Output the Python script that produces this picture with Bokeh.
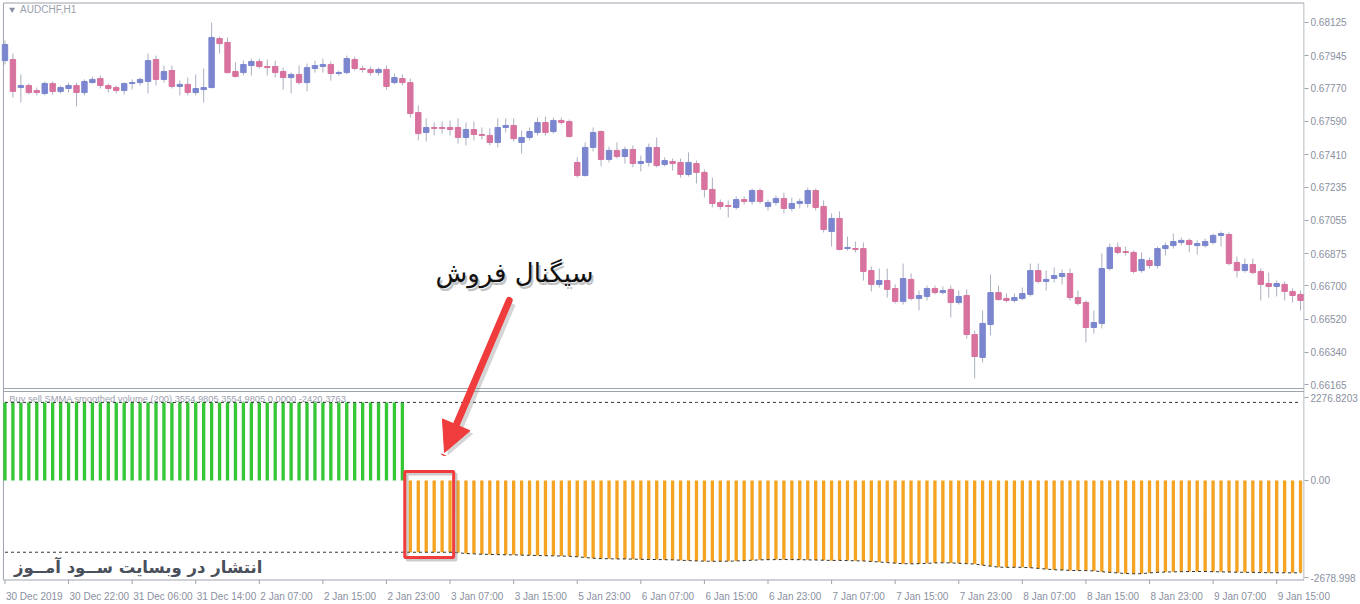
from bokeh.plotting import figure
from bokeh.models import Range1d, FixedTicker, Arrow, NormalHead, LinearAxis
from bokeh.core.properties import value
from bokeh.embed import file_html
from bokeh.resources import INLINE

# ---------------- data ----------------
opens = [0.67919, 0.67925, 0.67773, 0.67784, 0.67757, 0.67741, 0.67795, 0.67752, 0.67768, 0.67784,
         0.67746, 0.67800, 0.67822, 0.67784, 0.67773, 0.67757, 0.67795, 0.67800, 0.67806, 0.67925,
         0.67817, 0.67865, 0.67779, 0.67790, 0.67746, 0.67762, 0.67773, 0.68038, 0.68017, 0.67860,
         0.67854, 0.67892, 0.67914, 0.67887, 0.67887, 0.67860, 0.67827, 0.67844, 0.67800, 0.67876,
         0.67887, 0.67898, 0.67849, 0.67854, 0.67925, 0.67876, 0.67871, 0.67854, 0.67871, 0.67800,
         0.67822, 0.67800, 0.67638, 0.67530, 0.67557, 0.67557, 0.67557, 0.67557, 0.67503, 0.67546,
         0.67519, 0.67514, 0.67476, 0.67557, 0.67568, 0.67476, 0.67503, 0.67530, 0.67584, 0.67535,
         0.67595, 0.67589, 0.67368, 0.67297, 0.67449, 0.67535, 0.67384, 0.67433, 0.67400, 0.67438,
         0.67362, 0.67368, 0.67449, 0.67357, 0.67373, 0.67368, 0.67303, 0.67362, 0.67314, 0.67222,
         0.67151, 0.67135, 0.67124, 0.67167, 0.67157, 0.67216, 0.67130, 0.67151, 0.67173, 0.67119,
         0.67146, 0.67146, 0.67216, 0.67130, 0.66994, 0.67065, 0.66902, 0.66902, 0.66902, 0.66783,
         0.66708, 0.66729, 0.66686, 0.66616, 0.66735, 0.66632, 0.66643, 0.66686, 0.66664, 0.66681,
         0.66610, 0.66648, 0.66437, 0.66313, 0.66491, 0.66664, 0.66632, 0.66621, 0.66632, 0.66654,
         0.66783, 0.66724, 0.66740, 0.66751, 0.66767, 0.66637, 0.66610, 0.66475, 0.66497, 0.66794,
         0.66908, 0.66886, 0.66881, 0.66783, 0.66837, 0.66810, 0.66902, 0.66918, 0.66935, 0.66946,
         0.66918, 0.66918, 0.66935, 0.66973, 0.66978, 0.66827, 0.66783, 0.66816, 0.66778, 0.66713,
         0.66697, 0.66708, 0.66670, 0.66654]
highs = [0.68028, 0.67957, 0.67844, 0.67795, 0.67773, 0.67806, 0.67806, 0.67784, 0.67800, 0.67800,
         0.67817, 0.67833, 0.67838, 0.67795, 0.67784, 0.67800, 0.67817, 0.67827, 0.67957, 0.67946,
         0.67892, 0.67892, 0.67811, 0.67827, 0.67844, 0.67876, 0.68125, 0.68049, 0.68044, 0.67909,
         0.67919, 0.67930, 0.67930, 0.67925, 0.67919, 0.67881, 0.67854, 0.67892, 0.67903, 0.67919,
         0.67930, 0.67914, 0.67865, 0.67946, 0.67941, 0.67892, 0.67887, 0.67881, 0.67892, 0.67849,
         0.67844, 0.67822, 0.67676, 0.67606, 0.67584, 0.67589, 0.67595, 0.67606, 0.67584, 0.67589,
         0.67557, 0.67552, 0.67606, 0.67606, 0.67606, 0.67541, 0.67557, 0.67611, 0.67616, 0.67611,
         0.67611, 0.67600, 0.67395, 0.67476, 0.67557, 0.67541, 0.67454, 0.67476, 0.67454, 0.67460,
         0.67405, 0.67470, 0.67503, 0.67395, 0.67389, 0.67389, 0.67422, 0.67378, 0.67330, 0.67286,
         0.67167, 0.67162, 0.67184, 0.67184, 0.67227, 0.67227, 0.67167, 0.67189, 0.67205, 0.67178,
         0.67173, 0.67232, 0.67227, 0.67162, 0.67092, 0.67103, 0.66967, 0.66940, 0.66935, 0.66805,
         0.66794, 0.66794, 0.66708, 0.66821, 0.66767, 0.66675, 0.66702, 0.66702, 0.66697, 0.66702,
         0.66675, 0.66681, 0.66459, 0.66567, 0.66762, 0.66702, 0.66659, 0.66659, 0.66691, 0.66821,
         0.66821, 0.66783, 0.66800, 0.66789, 0.66794, 0.66675, 0.66621, 0.66567, 0.66875, 0.66929,
         0.66935, 0.66913, 0.66892, 0.66881, 0.66854, 0.66913, 0.66935, 0.66983, 0.66962, 0.66956,
         0.66946, 0.66956, 0.66983, 0.66994, 0.66989, 0.66859, 0.66848, 0.66848, 0.66794, 0.66772,
         0.66729, 0.66724, 0.66686, 0.66675]
lows = [0.67898, 0.67719, 0.67692, 0.67735, 0.67730, 0.67730, 0.67735, 0.67741, 0.67746, 0.67671,
        0.67730, 0.67795, 0.67768, 0.67746, 0.67741, 0.67735, 0.67762, 0.67784, 0.67741, 0.67784,
        0.67800, 0.67768, 0.67730, 0.67730, 0.67730, 0.67692, 0.67768, 0.67957, 0.67849, 0.67827,
        0.67838, 0.67838, 0.67876, 0.67838, 0.67827, 0.67762, 0.67741, 0.67790, 0.67752, 0.67854,
        0.67854, 0.67811, 0.67838, 0.67844, 0.67865, 0.67854, 0.67838, 0.67838, 0.67762, 0.67790,
        0.67784, 0.67611, 0.67487, 0.67481, 0.67514, 0.67524, 0.67514, 0.67470, 0.67460, 0.67487,
        0.67492, 0.67460, 0.67449, 0.67530, 0.67481, 0.67416, 0.67487, 0.67514, 0.67514, 0.67524,
        0.67573, 0.67503, 0.67286, 0.67292, 0.67427, 0.67346, 0.67368, 0.67389, 0.67362, 0.67341,
        0.67319, 0.67346, 0.67341, 0.67346, 0.67324, 0.67286, 0.67292, 0.67254, 0.67178, 0.67124,
        0.67113, 0.67070, 0.67113, 0.67140, 0.67140, 0.67146, 0.67108, 0.67135, 0.67092, 0.67103,
        0.67119, 0.67124, 0.67108, 0.66989, 0.66913, 0.66892, 0.66892, 0.66881, 0.66729, 0.66670,
        0.66691, 0.66637, 0.66605, 0.66599, 0.66621, 0.66567, 0.66621, 0.66654, 0.66654, 0.66529,
        0.66599, 0.66415, 0.66199, 0.66286, 0.66432, 0.66621, 0.66610, 0.66610, 0.66621, 0.66643,
        0.66713, 0.66675, 0.66718, 0.66708, 0.66621, 0.66594, 0.66394, 0.66442, 0.66470, 0.66783,
        0.66870, 0.66864, 0.66767, 0.66772, 0.66794, 0.66794, 0.66864, 0.66902, 0.66918, 0.66881,
        0.66870, 0.66908, 0.66924, 0.66913, 0.66810, 0.66745, 0.66772, 0.66762, 0.66621, 0.66637,
        0.66643, 0.66621, 0.66610, 0.66567]
closes = [0.68006, 0.67752, 0.67784, 0.67746, 0.67746, 0.67795, 0.67752, 0.67773, 0.67784, 0.67746,
          0.67806, 0.67817, 0.67784, 0.67768, 0.67757, 0.67795, 0.67800, 0.67817, 0.67919, 0.67817,
          0.67860, 0.67779, 0.67790, 0.67746, 0.67768, 0.67773, 0.68044, 0.68011, 0.67854, 0.67833,
          0.67898, 0.67914, 0.67887, 0.67881, 0.67854, 0.67827, 0.67844, 0.67800, 0.67881, 0.67892,
          0.67898, 0.67849, 0.67854, 0.67930, 0.67876, 0.67871, 0.67854, 0.67871, 0.67779, 0.67827,
          0.67800, 0.67633, 0.67524, 0.67557, 0.67552, 0.67552, 0.67546, 0.67503, 0.67546, 0.67519,
          0.67514, 0.67476, 0.67557, 0.67568, 0.67497, 0.67503, 0.67535, 0.67584, 0.67530, 0.67595,
          0.67584, 0.67508, 0.67297, 0.67449, 0.67530, 0.67384, 0.67433, 0.67400, 0.67438, 0.67362,
          0.67373, 0.67449, 0.67351, 0.67378, 0.67362, 0.67303, 0.67368, 0.67314, 0.67222, 0.67146,
          0.67130, 0.67130, 0.67167, 0.67157, 0.67216, 0.67157, 0.67151, 0.67173, 0.67119, 0.67146,
          0.67157, 0.67216, 0.67124, 0.67005, 0.67065, 0.66897, 0.66908, 0.66897, 0.66778, 0.66708,
          0.66729, 0.66681, 0.66616, 0.66740, 0.66632, 0.66648, 0.66686, 0.66664, 0.66675, 0.66610,
          0.66643, 0.66437, 0.66318, 0.66497, 0.66664, 0.66626, 0.66621, 0.66637, 0.66659, 0.66783,
          0.66724, 0.66735, 0.66756, 0.66767, 0.66637, 0.66605, 0.66475, 0.66502, 0.66794, 0.66908,
          0.66881, 0.66881, 0.66778, 0.66843, 0.66810, 0.66902, 0.66918, 0.66940, 0.66946, 0.66924,
          0.66929, 0.66940, 0.66973, 0.66983, 0.66821, 0.66783, 0.66816, 0.66772, 0.66708, 0.66697,
          0.66713, 0.66670, 0.66648, 0.66621]

date_labels = ["30 Dec 2019", "30 Dec 22:00", "31 Dec 06:00", "31 Dec 14:00", "2 Jan 07:00",
               "2 Jan 15:00", "2 Jan 23:00", "3 Jan 07:00", "3 Jan 15:00", "5 Jan 23:00",
               "6 Jan 07:00", "6 Jan 15:00", "6 Jan 23:00", "7 Jan 07:00", "7 Jan 15:00",
               "7 Jan 23:00", "8 Jan 07:00", "8 Jan 15:00", "8 Jan 23:00", "9 Jan 07:00",
               "9 Jan 15:00"]
bars_per_label = 8

price_ticks = [0.68125, 0.67945, 0.67770, 0.67590, 0.67410, 0.67235, 0.67055,
               0.66875, 0.66700, 0.66520, 0.66340, 0.66165]
ind_ticks = [2276.8203, 0.0, -2678.998]
ind_tick_labels = ["2276.8203", "0.00", "-2678.998"]

# indicator histogram: buy (green) bars, then sell (orange) bars
green_hist = [2150, 2150, 2150, 2150, 2150, 2150, 2150, 2150, 2150, 2150,
              2150, 2150, 2150, 2150, 2150, 2150, 2150, 2150, 2150, 2150,
              2150, 2150, 2150, 2150, 2150, 2150, 2150, 2150, 2150, 2150,
              2150, 2150, 2150, 2150, 2150, 2150, 2150, 2150, 2150, 2150,
              2150, 2150, 2150, 2150, 2150, 2150, 2150, 2150, 2150, 2150, 2150]
orange_hist = [-1975, -1975, -1975, -1975, -1975, -1975, -1990, -2010, -2020, -2030,
               -2035, -2040, -2045, -2045, -2055, -2060, -2065, -2070, -2075, -2080,
               -2085, -2100, -2120, -2140, -2150, -2155, -2160, -2160, -2165, -2170,
               -2175, -2175, -2180, -2185, -2195, -2205, -2215, -2220, -2225, -2225,
               -2222, -2215, -2205, -2195, -2185, -2180, -2178, -2175, -2178, -2180,
               -2185, -2190, -2195, -2200, -2200, -2205, -2210, -2215, -2230, -2245,
               -2260, -2275, -2290, -2295, -2290, -2280, -2270, -2265, -2268, -2280,
               -2290, -2300, -2330, -2360, -2385, -2390, -2390, -2390, -2400, -2420,
               -2440, -2455, -2465, -2475, -2480, -2480, -2490, -2510, -2530, -2545,
               -2560, -2570, -2565, -2545, -2530, -2520, -2515, -2510, -2505, -2505,
               -2505, -2510, -2515, -2520, -2525, -2528, -2530, -2535, -2538, -2540,
               -2542, -2542, -2540]
buy_level = 2150
sell_level_before = -1975

# ---------------- layout constants ----------------
FIG_W, FIG_H = 1360, 604
price_lo, price_hi = 0.6507374, 0.682440    # price scale over the frame height
ind_lo, ind_hi = -2918.2, 13214.4           # indicator scale over the frame height
x_lo, x_hi = -0.5625, 163.5
PANE_BOTTOM = -2739      # lower edge of the indicator pane (indicator units)
PANE_TOP = 13145         # upper edge of the price pane (indicator units)
SEP = (2533, 2450)       # the two lines between the panes
TICK_LEN = 110           # date tick mark length (indicator units)
LEFT_EDGE, RIGHT_EDGE = -0.19, 163.44
FRAME_W_EST = 1304       # approx. frame width in px (used only to offset date labels)

BLUE = "#7b86cf"
PINK = "#d8729e"
WICK = "#aab0bf"
GREEN = "#35c735"
ORANGE = "#f4a422"
FRAME_GRAY = "#9ea3ad"
LABEL_GRAY = "#8a90a0"
RED = "#f03c3c"
AX_FONT = "Liberation Sans"

n = len(opens)
idx = list(range(n))

p = figure(width=FIG_W, height=FIG_H, x_range=Range1d(x_lo, x_hi),
           y_range=Range1d(price_lo, price_hi), y_axis_location="right",
           output_backend="svg", toolbar_location=None,
           min_border_left=0, min_border_top=0, min_border_right=0, min_border_bottom=0)
p.extra_y_ranges = {"ind": Range1d(ind_lo, ind_hi)}
p.xgrid.visible = False
p.ygrid.visible = False
p.outline_line_color = None
p.background_fill_color = "white"
p.border_fill_color = "white"

# ---------------- frame of the two panes ----------------
p.segment(x0=[LEFT_EDGE, RIGHT_EDGE], y0=[PANE_BOTTOM, PANE_BOTTOM],
          x1=[LEFT_EDGE, RIGHT_EDGE], y1=[PANE_TOP, PANE_TOP],
          line_color=FRAME_GRAY, line_width=1, y_range_name="ind")
for loc in (PANE_TOP, SEP[0], SEP[1], PANE_BOTTOM):
    p.segment(x0=[LEFT_EDGE], y0=[loc], x1=[RIGHT_EDGE], y1=[loc],
              line_color=FRAME_GRAY, line_width=1, y_range_name="ind")

# ---------------- candles ----------------
up = [i for i in idx if closes[i] >= opens[i]]
dn = [i for i in idx if closes[i] < opens[i]]
p.segment(x0=idx, y0=lows, x1=idx, y1=highs, line_color=WICK, line_width=1)
p.vbar(x=up, width=0.68, top=[closes[i] for i in up], bottom=[opens[i] for i in up],
       fill_color=BLUE, line_color=BLUE, line_width=1)
p.vbar(x=dn, width=0.68, top=[opens[i] for i in dn], bottom=[closes[i] for i in dn],
       fill_color=PINK, line_color=PINK, line_width=1)

# ---------------- indicator ----------------
g_x = list(range(len(green_hist)))
o_x = list(range(len(green_hist), len(green_hist) + len(orange_hist)))
p.vbar(x=g_x, width=0.42, top=green_hist, bottom=0, fill_color=GREEN, line_color=None,
       y_range_name="ind")
p.vbar(x=o_x, width=0.42, top=0, bottom=orange_hist, fill_color=ORANGE, line_color=None,
       y_range_name="ind")
p.line(x=idx, y=[buy_level for _ in idx], line_color="#333333", line_width=1,
       line_dash="3 3", y_range_name="ind")
sell_line = [sell_level_before for _ in g_x] + orange_hist
p.line(x=idx, y=sell_line, line_color="#333333", line_width=1, line_dash="3 3",
       y_range_name="ind")

# ---------------- right axis: price ticks and the indicator's scale labels ----------------
def ind_to_price(v):
    return price_lo + (v - ind_lo) * (price_hi - price_lo) / (ind_hi - ind_lo)

ind_tick_pos = [ind_to_price(v) for v in ind_ticks]
yax = p.yaxis[0]
yax.ticker = FixedTicker(ticks=price_ticks + ind_tick_pos)
overrides = {t: "%.5f" % t for t in price_ticks}
for t, lab in zip(ind_tick_pos, ind_tick_labels):
    overrides[t] = lab
yax.major_label_overrides = overrides
yax.axis_line_color = None
yax.major_tick_out = 4
yax.major_tick_in = 0
yax.minor_tick_line_color = None
yax.major_tick_line_color = FRAME_GRAY
yax.major_label_text_font = AX_FONT
yax.major_label_text_font_size = "10px"
yax.major_label_text_color = LABEL_GRAY
yax.major_label_standoff = 2

# ---------------- time axis ----------------
xticks = [i * bars_per_label for i in range(len(date_labels))]
# tick marks hang from the indicator pane's lower edge
p.segment(x0=xticks, y0=[PANE_BOTTOM] * len(xticks), x1=xticks,
          y1=[PANE_BOTTOM - TICK_LEN] * len(xticks), line_color=FRAME_GRAY,
          line_width=1, y_range_name="ind")
# spacer axis (keeps the label row at the right height, marks hidden)
xax = p.xaxis[0]
xax.ticker = FixedTicker(ticks=xticks)
xax.major_label_overrides = {t: "" for t in xticks}
xax.major_label_text_font_size = "1px"
xax.major_label_standoff = 0
xax.axis_label = None
xax.axis_line_color = None
xax.major_tick_out = 4
xax.major_tick_in = 0
xax.minor_tick_line_color = None
xax.major_tick_line_alpha = 0

# Liberation Sans advance widths (per 1 px of font size) to start each label at its tick
CHAR_W = {" ": 0.278, ":": 0.278, "D": 0.722, "J": 0.5, "e": 0.556, "c": 0.5,
          "a": 0.556, "n": 0.556}
def text_width(s, size):
    return sum(CHAR_W.get(ch, 0.556) for ch in s) * size

px_per_bar = FRAME_W_EST / (x_hi - x_lo)
label_pos = [round(t + (text_width(lab, 10) / 2 + 1) / px_per_bar, 3)
             for t, lab in zip(xticks, date_labels)]
lab_ax = LinearAxis(ticker=FixedTicker(ticks=label_pos),
                    major_label_overrides={t: lab for t, lab in zip(label_pos, date_labels)},
                    axis_line_color=None, major_tick_line_color=None,
                    minor_tick_line_color=None, major_tick_out=0, major_tick_in=0,
                    major_label_standoff=0, major_label_text_font=AX_FONT,
                    major_label_text_font_size="10px", major_label_text_color=LABEL_GRAY)
p.add_layout(lab_ax, "below")

# ---------------- texts & annotations ----------------
title_pos = (1.9, 0.68195)
p.scatter(x=[0.9], y=[title_pos[1]], marker="inverted_triangle", size=6,
          fill_color=LABEL_GRAY, line_color=None)
p.text(x=[title_pos[0]], y=[title_pos[1]], text=["AUDCHF,H1"],
       text_font=value(AX_FONT), text_font_size="10px",
       text_color="#9aa0ad", text_baseline="middle", text_align="left")

p.text(x=[0.55], y=[2240], y_range_name="ind",
       text=["Buy sell SMMA smoothed volume (200) 3554.9805 3554.9805 0.0000 -2420.3763"],
       text_font=value(AX_FONT), text_font_size="9.3px",
       text_color="#9aa0ad", text_baseline="middle", text_align="left")

# sell signal caption (with soft shadow)
sig_pos = (64.1, 0.66772)
p.text(x=[sig_pos[0]], y=[sig_pos[1]], text=["سیگنال فروش"], x_offset=2, y_offset=3,
       text_font=value("DejaVu Sans"), text_font_size="26px", text_color="#777777",
       text_alpha=0.45, text_align="center", text_baseline="middle")
p.text(x=[sig_pos[0]], y=[sig_pos[1]], text=["سیگنال فروش"],
       text_font=value("DejaVu Sans"), text_font_size="26px", text_color="#111111",
       text_align="center", text_baseline="middle")

# arrow (shadow then arrow)
arr = dict(x_start=63.44, y_start=0.66621, x_end=55.3, y_end=0.65799)
p.add_layout(Arrow(x_start=arr["x_start"] + 0.4, y_start=arr["y_start"] - 0.00017,
                   x_end=arr["x_end"] + 0.4, y_end=arr["y_end"] - 0.00017,
                   line_color="#888888", line_alpha=0.35, line_width=7,
                   end=NormalHead(size=30, fill_color="#888888", fill_alpha=0.35,
                                  line_color=None)))
p.add_layout(Arrow(x_start=arr["x_start"], y_start=arr["y_start"],
                   x_end=arr["x_end"], y_end=arr["y_end"],
                   line_color=RED, line_width=7, line_cap="round",
                   end=NormalHead(size=30, fill_color=RED, line_color=RED)))

# highlight box around first sell bars
box = dict(left=50.3, right=56.45, top=250, bottom=-2120)
p.quad(left=[box["left"] + 0.3], right=[box["right"] + 0.3], top=[box["top"] - 70],
       bottom=[box["bottom"] - 70], fill_color=None, line_color="#999999",
       line_alpha=0.5, line_width=3, y_range_name="ind")
p.quad(left=[box["left"]], right=[box["right"]], top=[box["top"]], bottom=[box["bottom"]],
       fill_color=None, line_color=RED, line_width=3, y_range_name="ind")

# publisher watermark
p.text(x=[16.75], y=[-2395], y_range_name="ind", text=["انتشار در وبسایت ســود آمــوز"],
       text_font=value("DejaVu Sans"), text_font_size="16.5px", text_font_style="bold",
       text_color="#4a505c", text_align="center", text_baseline="middle")

open("out.html", "w").write(file_html(p, INLINE))
